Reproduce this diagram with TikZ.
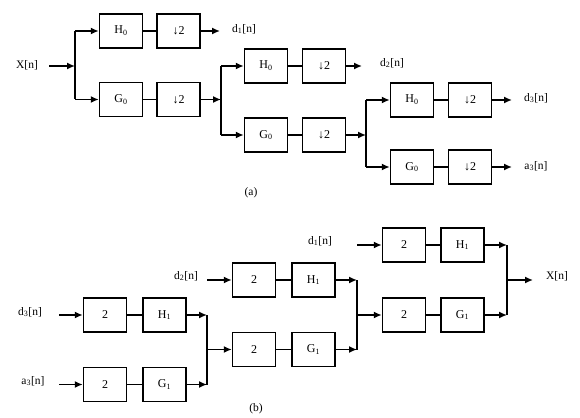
\documentclass[tikz,border=0pt]{standalone}
\usepackage{fontspec}
\setmainfont{Liberation Serif}
\usetikzlibrary{arrows.meta}

\tikzset{
    filt/.style={draw, line width=1.5pt, minimum width=43pt, minimum height=34pt, inner sep=0pt, font=\fontsize{12}{14}\selectfont},
    sig/.style={line width=1.5pt, -{Latex[length=8pt,width=7pt]}},
    wire/.style={line width=1.5pt},
    lbl/.style={font=\fontsize{11.5}{13}\selectfont, inner sep=1pt}
}
\newcommand{\sub}[1]{\textsubscript{#1}}

\begin{document}
\begin{tikzpicture}[x=1pt, y=-1pt]
    \useasboundingbox (0,0) rectangle (580,417);

    % (a) analysis: filters and down-samplers
    \node[filt] (ha1) at (121,31) {H\sub{0}};
    \node[filt] (da1) at (178.5,31) {↓2};
    \node[filt] (ga1) at (121,99.5) {G\sub{0}};
    \node[filt] (ea1) at (178.5,99.5) {↓2};

    \node[filt] (ha2) at (266,66) {H\sub{0}};
    \node[filt] (da2) at (324,66) {↓2};
    \node[filt] (ga2) at (266,135) {G\sub{0}};
    \node[filt] (ea2) at (324,135) {↓2};

    \node[filt] (ha3) at (412,100) {H\sub{0}};
    \node[filt] (da3) at (470,100) {↓2};
    \node[filt] (ga3) at (412,167) {G\sub{0}};
    \node[filt] (ea3) at (470,167) {↓2};

    % (a) signals
    \node[lbl] (xin) at (27,65) {X[n]};
    \node[lbl] (d1out) at (244,29) {d\sub{1}[n]};
    \node[lbl] (d2out) at (392,63) {d\sub{2}[n]};
    \node[lbl] (d3out) at (536,98) {d\sub{3}[n]};
    \node[lbl] (a3out) at (536,166) {a\sub{3}[n]};
    \node[lbl] (capa) at (251,193) {(a)};

    \coordinate (xst) at (49,66);
    \coordinate (sa1) at (75,66);
    \coordinate (sa2) at (221,99.5);
    \coordinate (sa3) at (366,135);
    \coordinate (d1end) at (220,31);
    \coordinate (d2end) at (362,66);
    \coordinate (d3end) at (512,100);
    \coordinate (a3end) at (512,167);

    \draw[sig] (xst) -- (sa1);
    \draw[wire] (sa1 |- ha1) -- (sa1 |- ga1);
    \draw[sig] (sa1 |- ha1) -- (ha1);
    \draw[sig] (sa1 |- ga1) -- (ga1);
    \draw[wire] (ha1) -- (da1);
    \draw[wire] (ga1) -- (ea1);
    \draw[sig] (da1) -- (d1end);
    \draw[sig] (ea1) -- (sa2);

    \draw[wire] (sa2 |- ha2) -- (sa2 |- ga2);
    \draw[sig] (sa2 |- ha2) -- (ha2);
    \draw[sig] (sa2 |- ga2) -- (ga2);
    \draw[wire] (ha2) -- (da2);
    \draw[wire] (ga2) -- (ea2);
    \draw[sig] (da2) -- (d2end);
    \draw[sig] (ea2) -- (sa3);

    \draw[wire] (sa3 |- ha3) -- (sa3 |- ga3);
    \draw[sig] (sa3 |- ha3) -- (ha3);
    \draw[sig] (sa3 |- ga3) -- (ga3);
    \draw[wire] (ha3) -- (da3);
    \draw[wire] (ga3) -- (ea3);
    \draw[sig] (da3) -- (d3end);
    \draw[sig] (ea3) -- (a3end);

    % (b) synthesis: up-samplers and filters
    \node[filt] (ub1) at (105,315) {2};
    \node[filt] (hb1) at (164.5,315) {H\sub{1}};
    \node[filt] (vb1) at (105,384.5) {2};
    \node[filt] (gb1) at (164.5,384.5) {G\sub{1}};

    \node[filt] (ub2) at (254,280) {2};
    \node[filt] (hb2) at (313.5,280) {H\sub{1}};
    \node[filt] (vb2) at (254,349.5) {2};
    \node[filt] (gb2) at (313.5,349.5) {G\sub{1}};

    \node[filt] (ub3) at (404,245) {2};
    \node[filt] (hb3) at (462.5,245) {H\sub{1}};
    \node[filt] (vb3) at (404,315) {2};
    \node[filt] (gb3) at (462.5,315) {G\sub{1}};

    % (b) signals
    \node[lbl] (d3in) at (30,312) {d\sub{3}[n]};
    \node[lbl] (a3in) at (33,381) {a\sub{3}[n]};
    \node[lbl] (d2in) at (186,276) {d\sub{2}[n]};
    \node[lbl] (d1in) at (320,241) {d\sub{1}[n]};
    \node[lbl] (xout) at (557,276) {X[n]};
    \node[lbl] (capb) at (256,409) {(b)};

    \coordinate (d3st) at (59,315);
    \coordinate (a3st) at (59,384.5);
    \coordinate (d2st) at (207,280);
    \coordinate (d1st) at (357,245);
    \coordinate (jb1) at (207,349.5);
    \coordinate (jb2) at (357,315);
    \coordinate (jb3) at (507,280);
    \coordinate (xend) at (533,280);

    \draw[sig] (d3st) -- (ub1);
    \draw[sig] (a3st) -- (vb1);
    \draw[wire] (ub1) -- (hb1);
    \draw[wire] (vb1) -- (gb1);
    \draw[sig] (hb1) -- (jb1 |- hb1);
    \draw[sig] (gb1) -- (jb1 |- gb1);
    \draw[wire] (jb1 |- hb1) -- (jb1 |- gb1);
    \draw[sig] (jb1) -- (vb2);

    \draw[sig] (d2st) -- (ub2);
    \draw[wire] (ub2) -- (hb2);
    \draw[wire] (vb2) -- (gb2);
    \draw[sig] (hb2) -- (jb2 |- hb2);
    \draw[sig] (gb2) -- (jb2 |- gb2);
    \draw[wire] (jb2 |- hb2) -- (jb2 |- gb2);
    \draw[sig] (jb2) -- (vb3);

    \draw[sig] (d1st) -- (ub3);
    \draw[wire] (ub3) -- (hb3);
    \draw[wire] (vb3) -- (gb3);
    \draw[sig] (hb3) -- (jb3 |- hb3);
    \draw[sig] (gb3) -- (jb3 |- gb3);
    \draw[wire] (jb3 |- hb3) -- (jb3 |- gb3);
    \draw[sig] (jb3) -- (xend);
\end{tikzpicture}
\end{document}
